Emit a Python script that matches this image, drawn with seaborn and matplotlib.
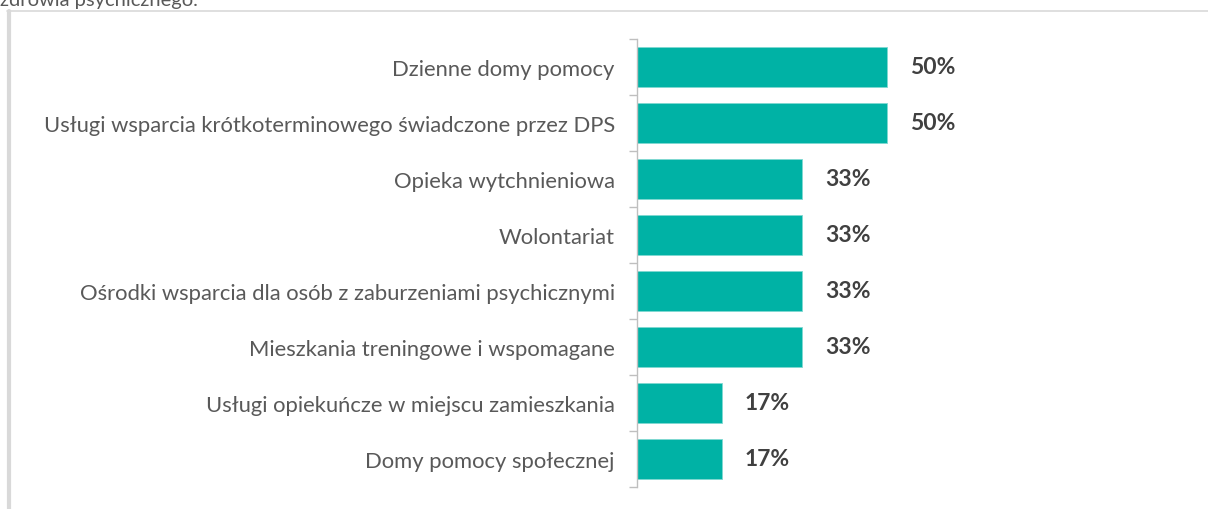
import matplotlib
matplotlib.use("Agg")
import matplotlib.pyplot as plt
from matplotlib.lines import Line2D
from matplotlib.ticker import FixedLocator
import seaborn as sns
import pandas as pd

categories = [
    "Dzienne domy pomocy",
    "Usługi wsparcia krótkoterminowego świadczone przez DPS",
    "Opieka wytchnieniowa",
    "Wolontariat",
    "Ośrodki wsparcia dla osób z zaburzeniami psychicznymi",
    "Mieszkania treningowe i wspomagane",
    "Usługi opiekuńcze w miejscu zamieszkania",
    "Domy pomocy społecznej",
]
values = [50, 50, 33, 33, 33, 33, 17, 17]
value_labels = ["50%", "50%", "33%", "33%", "33%", "33%", "17%", "17%"]
caption_tail = "zdrowia psychicznego."

sns.set_theme(style="white")
plt.rcParams["font.family"] = ["Lato", "DejaVu Sans"]

W, H = 1208, 510
fig = plt.figure(figsize=(W / 100, H / 100), dpi=100)
ax = fig.add_axes([637 / W, (H - 488) / H, 500 / W, 448 / H])

df = pd.DataFrame({"kategoria": categories, "udzial": values})
sns.barplot(data=df, x="udzial", y="kategoria", orient="h", color="#00B2A5",
            saturation=1, width=0.71, edgecolor="#7fd8d2", linewidth=0.6, ax=ax)

ax.set_xlim(0, 100)
ax.set_ylim(len(categories) - 0.5, -0.5)
ax.set_xlabel("")
ax.set_ylabel("")
ax.set_xticks([])

for s in ["top", "right", "bottom"]:
    ax.spines[s].set_visible(False)
ax.spines["left"].set_color("#bfbfbf")
ax.spines["left"].set_linewidth(1.0)

ax.tick_params(axis="y", which="major", length=0, pad=16, labelsize=15.8,
               labelcolor="#595959")
ax.yaxis.set_minor_locator(FixedLocator([i - 0.5 for i in range(len(categories) + 1)]))
ax.tick_params(axis="y", which="minor", length=6, width=1.0, color="#bfbfbf", left=True)

for i, (v, lab) in enumerate(zip(values, value_labels)):
    ax.text(v + 4.6, i, lab, va="center", ha="left", fontsize=16.5,
            fontweight="bold", color="#404040")

# frame around the chart area
fig.add_artist(Line2D([7 / W, 1.0], [1 - 12 / H, 1 - 12 / H], transform=fig.transFigure,
                      color="#d9d9d9", linewidth=1.2))
fig.add_artist(Line2D([9 / W, 9 / W], [1 - 12 / H, 0.0], transform=fig.transFigure,
                      color="#d9d9d9", linewidth=3.0))

fig.text(0, 1 - 6 / H, caption_tail, ha="left", va="baseline", fontsize=14.5,
         color="#595959")

fig.savefig("out.png", dpi=100)
